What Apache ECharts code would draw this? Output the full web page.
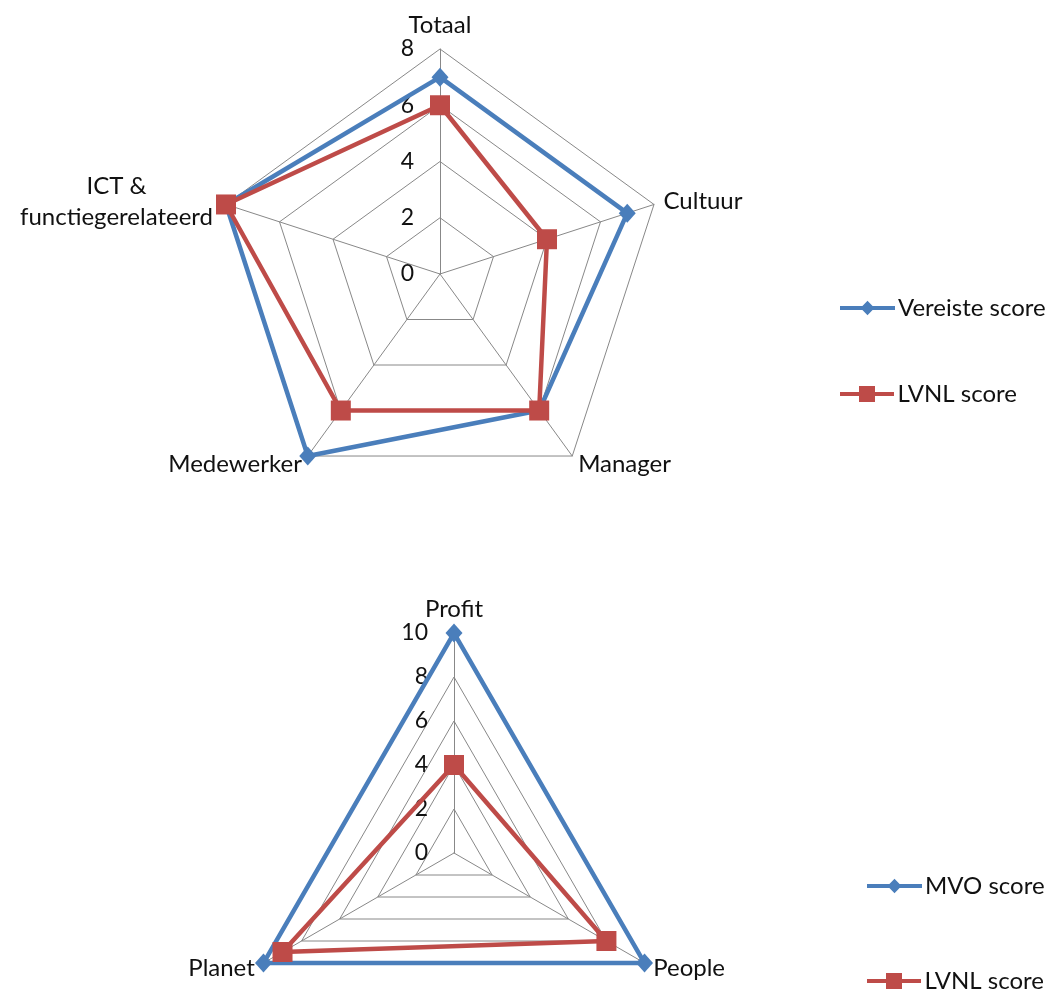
<!DOCTYPE html>
<html>
<head>
<meta charset="utf-8">
<script src="https://cdn.jsdelivr.net/npm/echarts@6/dist/echarts.min.js"></script>
<style>
html,body{margin:0;padding:0;background:#fff;}
#chart{width:1053px;height:989px;}
</style>
</head>
<body>
<div id="chart"></div>
<script>
// bovenste radar: competenties (volgorde met de klok mee, zoals in Excel)
var cats_1 = ['Totaal', 'Cultuur', 'Manager', 'Medewerker', 'ICT &\nfunctiegerelateerd'];
var max_1 = 8;
var vereiste = [7, 7, 6, 8, 8];
var lvnl_1 = [6, 4, 6, 6, 8];

// onderste radar: MVO
var cats_2 = ['Profit', 'People', 'Planet'];
var max_2 = 10;
var mvo = [10, 10, 10];
var lvnl_2 = [4, 8, 9];

var blue = '#4a7ebb';
var red = '#be4b48';
var txt = '#111';
var font = 'Lato, "Open Sans", sans-serif';
var fs = 24;

var diamondIcon = 'path://M0,5 L22,5 L27,0 L32,5 L54,5 L54,9 L32,9 L27,14 L22,9 L0,9 Z';
var squareIcon = 'path://M0,6 L19,6 L19,0 L35,0 L35,6 L54,6 L54,10 L35,10 L35,16 L19,16 L19,10 L0,10 Z';

// echarts radar loopt tegen de klok in: eerste blijft bovenaan, de rest omgekeerd
function cw(arr) {
    return [arr[0]].concat(arr.slice(1).reverse());
}

function indicators(cats, max) {
    return cw(cats).map(function (c, i) {
        var ind = { name: c, min: 0, max: max };
        if (i === 0) {
            ind.axisLabel = { show: true };
        }
        return ind;
    });
}

function radarOpt(cats, max, center, radius) {
    return {
        center: center,
        radius: radius,
        startAngle: 90,
        shape: 'polygon',
        splitNumber: max / 2,
        indicator: indicators(cats, max),
        axisName: {
            color: txt,
            fontSize: fs,
            fontFamily: font,
            formatter: function (v) {
                if (v.indexOf('\n') >= 0) {
                    return v.split('\n').map(function (s) { return '{c|' + s + '}'; }).join('\n');
                }
                return v;
            },
            rich: {
                c: { width: 200, align: 'center', fontSize: fs, fontFamily: font, color: txt, lineHeight: 31 }
            }
        },
        nameGap: 10,
        axisLine: { lineStyle: { color: '#888', width: 1 } },
        splitLine: { lineStyle: { color: '#888', width: 1 } },
        splitArea: { show: false },
        axisTick: { show: false },
        axisLabel: {
            show: false,
            color: txt,
            fontSize: 23,
            fontFamily: font,
            margin: 26,
            showMinLabel: true,
            showMaxLabel: true
        }
    };
}

function serie(name, values, idx, color, symbol, size) {
    return {
        name: name,
        type: 'radar',
        radarIndex: idx,
        symbol: symbol,
        symbolSize: size,
        lineStyle: { color: color, width: 4.5 },
        itemStyle: { color: color },
        data: [{ name: name, value: cw(values) }]
    };
}

function legendItem(name, icon, left, top) {
    return {
        left: left,
        top: top,
        padding: 0,
        itemWidth: 55,
        itemHeight: 16,
        textStyle: { color: txt, fontSize: fs, fontFamily: font, padding: [0, 0, 0, -2] },
        data: [{ name: name, icon: icon }]
    };
}

var option = {
    backgroundColor: '#fff',
    animation: false,
    radar: [
        radarOpt(cats_1, max_1, [440, 274], 225),
        radarOpt(cats_2, max_2, [454, 853], 220)
    ],
    legend: [
        legendItem('Vereiste score', diamondIcon, 840, 296),
        legendItem('LVNL score ', squareIcon, 840, 382),
        legendItem('MVO score', diamondIcon, 867, 874),
        legendItem('LVNL score', squareIcon, 867, 969)
    ],
    series: [
        serie('Vereiste score', vereiste, 0, blue, 'diamond', [17, 19]),
        serie('LVNL score ', lvnl_1, 0, red, 'rect', 20),
        serie('MVO score', mvo, 1, blue, 'diamond', [17, 19]),
        serie('LVNL score', lvnl_2, 1, red, 'rect', 20)
    ]
};

var myChart = echarts.init(document.getElementById('chart'));
myChart.setOption(option);
</script>
</body>
</html>
